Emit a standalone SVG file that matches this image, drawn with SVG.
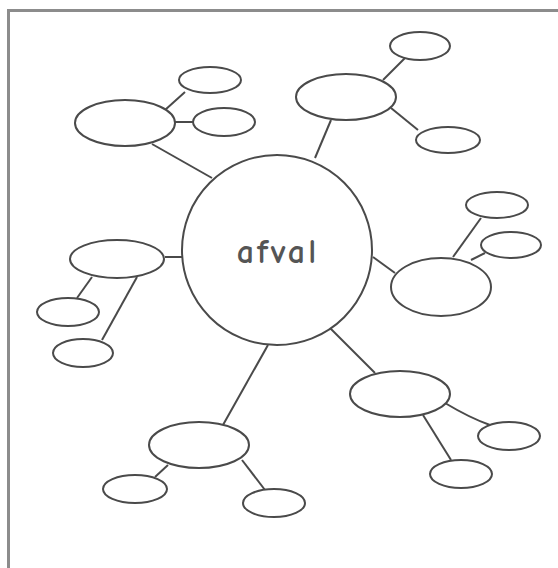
<svg xmlns="http://www.w3.org/2000/svg" width="558" height="568" viewBox="0 0 558 568">
<style>
.n{fill:#fff;stroke:#4a4a4a;stroke-width:2}
.c line,.c path{stroke:#4a4a4a;stroke-width:2;fill:none}
.t{font-family:"Comic Neue","Noto Sans","DejaVu Sans",sans-serif;font-size:34px;font-weight:bold;letter-spacing:3px;fill:#555}
</style>
<rect width="558" height="568" fill="#fff"/>
<g id="frame" stroke="#8c8c8c" stroke-width="3" fill="none">
<path d="M8.5 568 V10.5 H558"/>
</g>
<g class="c" id="connectors">
<line x1="152" y1="144" x2="212" y2="178"/>
<line x1="165" y1="110" x2="185" y2="92"/>
<line x1="175" y1="122" x2="195" y2="122"/>
<line x1="165" y1="257" x2="182" y2="257"/>
<line x1="92" y1="277" x2="77" y2="298"/>
<line x1="137" y1="277" x2="102" y2="340"/>
<line x1="268" y1="345" x2="223" y2="425"/>
<line x1="168" y1="465" x2="155" y2="477"/>
<line x1="242" y1="460" x2="265" y2="490"/>
<line x1="330" y1="328" x2="375" y2="373"/>
<path d="M445 403 Q470 418 490 425"/>
<line x1="423" y1="415" x2="451" y2="460"/>
<line x1="315" y1="158" x2="331" y2="120"/>
<line x1="383" y1="80" x2="405" y2="58"/>
<line x1="391" y1="108" x2="418" y2="130"/>
<line x1="373" y1="257" x2="395" y2="273"/>
<line x1="453" y1="257" x2="481" y2="218"/>
<line x1="471" y1="260" x2="485" y2="253"/>
</g>
<g id="center"><circle class="n" cx="277" cy="250" r="95"/><text class="t" x="278" y="263" text-anchor="middle">afval</text></g>
<g id="a"><ellipse class="n" cx="125" cy="123" rx="50" ry="23"/></g>
<g id="a1"><ellipse class="n" cx="210" cy="80" rx="31" ry="13"/></g>
<g id="a2"><ellipse class="n" cx="224" cy="122" rx="31" ry="14"/></g>
<g id="b"><ellipse class="n" cx="117" cy="259" rx="47" ry="19"/></g>
<g id="b1"><ellipse class="n" cx="68" cy="312" rx="31" ry="14"/></g>
<g id="b2"><ellipse class="n" cx="83" cy="353" rx="30" ry="14"/></g>
<g id="c"><ellipse class="n" cx="346" cy="97" rx="50" ry="23"/></g>
<g id="c1"><ellipse class="n" cx="420" cy="46" rx="30" ry="14"/></g>
<g id="c2"><ellipse class="n" cx="448" cy="140" rx="32" ry="13"/></g>
<g id="d"><ellipse class="n" cx="199" cy="445" rx="50" ry="23"/></g>
<g id="d1"><ellipse class="n" cx="135" cy="489" rx="32" ry="14"/></g>
<g id="d2"><ellipse class="n" cx="274" cy="503" rx="31" ry="14"/></g>
<g id="e"><ellipse class="n" cx="441" cy="287" rx="50" ry="29"/></g>
<g id="e1"><ellipse class="n" cx="497" cy="205" rx="31" ry="13"/></g>
<g id="e2"><ellipse class="n" cx="511" cy="245" rx="30" ry="13"/></g>
<g id="f"><ellipse class="n" cx="400" cy="394" rx="50" ry="23"/></g>
<g id="f1"><ellipse class="n" cx="509" cy="436" rx="31" ry="14"/></g>
<g id="f2"><ellipse class="n" cx="461" cy="474" rx="31" ry="14"/></g>
</svg>
